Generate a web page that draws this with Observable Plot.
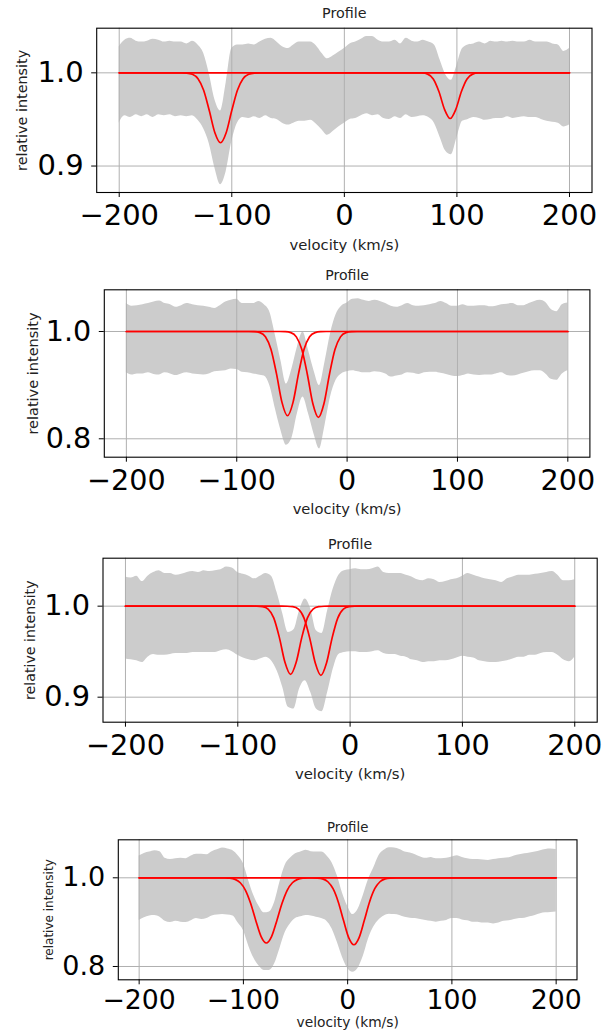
<!DOCTYPE html>
<html>
<head>
<meta charset="utf-8">
<script src="https://cdn.jsdelivr.net/npm/d3@7"></script>
<script src="https://cdn.jsdelivr.net/npm/@observablehq/plot@0.6"></script>
<style>
  html, body { margin: 0; padding: 0; background: #fff; }
  #wrap { position: relative; width: 613px; height: 1032px; overflow: hidden; background: #fff; }
  .panel { position: absolute; left: 0; }
</style>
</head>
<body>
<div id="wrap"></div>
<script>
// ---------- data ----------
const velocity = [-200,-195,-190,-185,-180,-175,-170,-165,-160,-155,-150,-145,-140,-135,-130,-125,-120,-115,-110,-105,
  -100,-95,-90,-85,-80,-75,-70,-65,-60,-55,-50,-45,-40,-35,-30,-25,-20,-15,-10,-5,
  0,5,10,15,20,25,30,35,40,45,50,55,60,65,70,75,80,85,90,95,
  100,105,110,115,120,125,130,135,140,145,150,155,160,165,170,175,180,185,190,195,200];

const xTicks = [-200, -100, 0, 100, 200];
const yTicks1 = [0.9, 1.0];
const yTicks2 = [0.8, 1.0];
const yTicks3 = [0.9, 1.0];
const yTicks4 = [0.8, 1.0];

const titles = ["Profile", "Profile", "Profile", "Profile"];
const xLabel = "velocity (km/s)";
const yLabel = "relative intensity";

// panel 1 band
const p1Upper = [1.028,1.035,1.037,1.034,1.033,1.034,1.036,1.035,1.033,1.034,
  1.033,1.033,1.031,1.034,1.030,1.021,0.999,0.971,0.959,0.989,
  1.026,1.030,1.030,1.031,1.030,1.033,1.036,1.037,1.033,1.028,
  1.026,1.030,1.033,1.033,1.033,1.029,1.021,1.015,1.018,1.022,
  1.026,1.031,1.033,1.036,1.039,1.039,1.035,1.033,1.033,1.035,
  1.031,1.037,1.034,1.033,1.035,1.033,1.030,1.014,0.998,0.992,
  1.008,1.026,1.030,1.031,1.033,1.031,1.034,1.033,1.034,1.033,
  1.034,1.033,1.033,1.035,1.033,1.033,1.033,1.031,1.030,1.023,
  1.026];
const p1Lower = [0.946,0.954,0.952,0.955,0.953,0.955,0.952,0.955,0.954,0.955,
  0.953,0.954,0.953,0.954,0.949,0.940,0.924,0.898,0.880,0.894,
  0.926,0.946,0.952,0.951,0.953,0.951,0.954,0.951,0.950,0.946,
  0.944,0.946,0.948,0.948,0.949,0.945,0.939,0.933,0.937,0.942,
  0.946,0.950,0.951,0.954,0.956,0.954,0.955,0.951,0.950,0.953,
  0.951,0.955,0.952,0.953,0.954,0.952,0.946,0.931,0.916,0.912,
  0.930,0.948,0.950,0.952,0.951,0.949,0.950,0.951,0.951,0.953,
  0.951,0.952,0.953,0.952,0.952,0.950,0.948,0.947,0.946,0.942,
  0.944];

// panel 2 band
const p2Upper = [1.052,1.047,1.048,1.050,1.052,1.055,1.057,1.052,1.050,1.045,
  1.048,1.052,1.050,1.048,1.047,1.045,1.043,1.048,1.055,1.058,
  1.060,1.052,1.052,1.052,1.056,1.050,1.036,0.993,0.946,0.902,
  0.930,0.971,0.999,0.965,0.927,0.899,0.943,0.996,1.031,1.047,
  1.053,1.060,1.061,1.058,1.056,1.058,1.056,1.052,1.047,1.045,
  1.048,1.052,1.048,1.047,1.048,1.050,1.052,1.056,1.052,1.047,
  1.047,1.050,1.047,1.047,1.048,1.048,1.046,1.047,1.050,1.051,
  1.052,1.048,1.048,1.052,1.056,1.058,1.054,1.041,1.037,1.050,
  1.053];
const p2Lower = [0.923,0.919,0.921,0.921,0.923,0.920,0.919,0.923,0.921,0.918,
  0.921,0.923,0.921,0.920,0.919,0.921,0.925,0.926,0.927,0.930,
  0.929,0.924,0.923,0.921,0.919,0.917,0.899,0.856,0.816,0.788,
  0.801,0.847,0.878,0.847,0.809,0.781,0.825,0.878,0.909,0.921,
  0.925,0.927,0.925,0.923,0.923,0.925,0.924,0.921,0.915,0.917,
  0.919,0.923,0.922,0.920,0.923,0.924,0.924,0.922,0.920,0.917,
  0.916,0.918,0.921,0.919,0.918,0.919,0.919,0.921,0.923,0.918,
  0.917,0.919,0.922,0.925,0.927,0.927,0.921,0.911,0.909,0.921,
  0.927];

// panel 3 band
const p3Upper = [1.032,1.031,1.033,1.027,1.033,1.037,1.039,1.036,1.036,1.034,
  1.035,1.037,1.038,1.037,1.039,1.038,1.039,1.040,1.043,1.042,
  1.037,1.035,1.033,1.030,1.033,1.036,1.033,1.015,0.992,0.971,
  0.974,0.995,1.008,0.997,0.973,0.970,0.995,1.019,1.034,1.039,
  1.040,1.041,1.040,1.040,1.041,1.043,1.037,1.036,1.036,1.036,
  1.034,1.032,1.029,1.028,1.030,1.029,1.026,1.027,1.029,1.030,
  1.033,1.036,1.034,1.032,1.030,1.029,1.028,1.026,1.030,1.032,
  1.034,1.034,1.034,1.035,1.036,1.037,1.038,1.034,1.028,1.028,
  1.029];
const p3Lower = [0.942,0.941,0.940,0.938,0.944,0.947,0.946,0.946,0.947,0.948,
  0.948,0.948,0.949,0.949,0.949,0.949,0.949,0.951,0.952,0.950,
  0.946,0.943,0.941,0.940,0.942,0.944,0.940,0.929,0.911,0.889,
  0.887,0.909,0.918,0.905,0.887,0.884,0.905,0.931,0.947,0.949,
  0.950,0.950,0.949,0.949,0.950,0.951,0.948,0.947,0.947,0.945,
  0.944,0.941,0.940,0.938,0.939,0.939,0.940,0.940,0.941,0.943,
  0.945,0.944,0.943,0.940,0.939,0.938,0.938,0.939,0.940,0.942,
  0.944,0.944,0.946,0.946,0.948,0.949,0.949,0.946,0.941,0.939,
  0.944];

// panel 4 band
const p4Upper = [1.049,1.055,1.058,1.061,1.059,1.044,1.041,1.043,1.044,1.043,
  1.049,1.053,1.053,1.052,1.059,1.063,1.067,1.065,1.061,1.050,
  1.032,0.994,0.960,0.936,0.921,0.923,0.945,0.990,1.028,1.044,
  1.054,1.058,1.062,1.059,1.058,1.058,1.050,1.034,1.005,0.966,
  0.936,0.917,0.929,0.960,0.996,1.022,1.050,1.062,1.068,1.067,
  1.064,1.058,1.056,1.052,1.047,1.044,1.046,1.043,1.043,1.044,
  1.047,1.050,1.046,1.043,1.041,1.041,1.040,1.039,1.041,1.043,
  1.044,1.045,1.049,1.052,1.054,1.056,1.058,1.061,1.064,1.065,
  1.064];
const p4Lower = [0.904,0.910,0.914,0.915,0.911,0.902,0.899,0.902,0.900,0.899,
  0.903,0.908,0.906,0.908,0.914,0.916,0.917,0.916,0.914,0.898,
  0.881,0.847,0.819,0.801,0.791,0.791,0.806,0.840,0.876,0.896,
  0.908,0.912,0.915,0.914,0.911,0.908,0.902,0.885,0.855,0.821,
  0.796,0.787,0.796,0.823,0.862,0.889,0.905,0.914,0.918,0.917,
  0.915,0.911,0.909,0.908,0.906,0.904,0.902,0.900,0.902,0.904,
  0.908,0.908,0.905,0.903,0.900,0.900,0.898,0.898,0.896,0.898,
  0.902,0.903,0.906,0.908,0.909,0.912,0.915,0.919,0.921,0.922,
  0.923];

// red model components (velocity, intensity)
const p1FitAx = [-200,-145,-140,-135,-130,-125,-120,-115,-110,-105,-100,-95,-90,-85,-80,-75,200];
const p1FitAy = [1,1,0.9997,0.9984,0.9936,0.9813,0.9595,0.9357,0.925,0.9357,0.9595,0.9813,0.9936,0.9984,0.9997,1,1];
const p1FitBx = [-200,64,69,74,79,84,89,94,99,104,109,114,119,124,200];
const p1FitBy = [1,1,0.9998,0.9986,0.9934,0.9799,0.9608,0.951,0.9608,0.9799,0.9934,0.9986,0.9998,1,1];

const p2FitAx = [-200,-89,-84,-79,-74,-69,-64,-59,-54,-49,-44,-39,-34,-29,-24,-19,200];
const p2FitAy = [1,1,0.9997,0.9979,0.9901,0.9669,0.9214,0.8679,0.843,0.8679,0.9214,0.9669,0.9901,0.9979,0.9997,1,1];
const p2FitBx = [-200,-61,-56,-51,-46,-41,-36,-31,-26,-21,-16,-11,-6,-1,4,9,200];
const p2FitBy = [1,1,0.9997,0.9979,0.99,0.9663,0.9199,0.8654,0.84,0.8654,0.9199,0.9663,0.99,0.9979,0.9997,1,1];

const p3FitAx = [-200,-88,-83,-78,-73,-68,-63,-58,-53,-48,-43,-38,-33,-28,-23,-18,200];
const p3FitAy = [1,1,0.9999,0.9994,0.9967,0.9871,0.9657,0.9383,0.925,0.9383,0.9657,0.9871,0.9967,0.9994,0.9999,1,1];
const p3FitBx = [-200,-61,-56,-51,-46,-41,-36,-31,-26,-21,-16,-11,-6,-1,4,9,200];
const p3FitBy = [1,1,0.9999,0.9994,0.9967,0.9869,0.9652,0.9375,0.924,0.9375,0.9652,0.9869,0.9967,0.9994,0.9999,1,1];

const p4FitAx = [-200,-123,-118,-113,-108,-103,-98,-93,-88,-83,-78,-73,-68,-63,-58,-53,-48,-43,-38,-33,200];
const p4FitAy = [1,1,0.9998,0.9991,0.9964,0.9889,0.9719,0.942,0.9028,0.8674,0.853,0.8674,0.9028,0.942,0.9719,0.9889,0.9964,0.9991,0.9998,1,1];
const p4FitBx = [-200,-39,-34,-29,-24,-19,-14,-9,-4,1,6,11,16,21,26,31,36,41,46,51,200];
const p4FitBy = [1,1,0.9999,0.9994,0.9975,0.9911,0.9754,0.9456,0.9041,0.8652,0.849,0.8652,0.9041,0.9456,0.9754,0.9911,0.9975,0.9994,0.9999,1,1];

// ---------- drawing ----------
const fmtX = d => d < 0 ? "\u2212" + Math.abs(d) : String(d);
const fmtY = d => d.toFixed(1);
const FONT = "DejaVu Sans";

function drawPanel(cfg) {
  const band = velocity.map((v, i) => ({v, lo: cfg.lower[i], hi: cfg.upper[i]}));
  const lineMarks = cfg.fits.map(([xs, ys]) =>
    Plot.line(xs.map((x, i) => ({x, y: ys[i]})), {
      x: "x", y: "y", stroke: "#ff0000", strokeWidth: 1.7, curve: "monotone-x"
    })
  );
  const chart = Plot.plot({
    width: 613,
    height: cfg.height,
    marginLeft: cfg.ml, marginRight: cfg.mr, marginTop: cfg.mt, marginBottom: cfg.mb,
    style: {fontFamily: FONT, background: "transparent", color: "#000", overflow: "visible"},
    x: {domain: [-220, 220]},
    y: {domain: cfg.yDomain},
    marks: [
      Plot.areaY(band, {x: "v", y1: "lo", y2: "hi", fill: "#cccccc", curve: "monotone-x"}),
      Plot.gridX(xTicks, {stroke: "#b0b0b0", strokeOpacity: 1, strokeWidth: 1}),
      Plot.gridY(cfg.yTicks, {stroke: "#b0b0b0", strokeOpacity: 1, strokeWidth: 1}),
      ...lineMarks,
      Plot.frame({stroke: "#000", strokeWidth: 1.1}),
      Plot.axisX(xTicks, {anchor: "bottom", tickSize: 5, tickPadding: cfg.xPad, fontSize: cfg.xFont,
        tickFormat: fmtX, label: null, fill: "#000"}),
      Plot.axisY(cfg.yTicks, {anchor: "left", tickSize: 5, tickPadding: 8, fontSize: cfg.yFont,
        tickFormat: fmtY, label: null, fill: "#000"}),
      Plot.text([cfg.title], {frameAnchor: "top", text: d => d, dy: cfg.titleDy, lineAnchor: "middle",
        fontSize: cfg.titleFont, fill: "#222"}),
      Plot.text([xLabel], {frameAnchor: "bottom", text: d => d, dy: cfg.xlabDy, lineAnchor: "middle",
        fontSize: cfg.xlabFont, fill: "#222"}),
      Plot.text([yLabel], {frameAnchor: "left", text: d => d, dx: cfg.ylabDx, rotate: -90,
        textAnchor: "middle", lineAnchor: "middle", fontSize: cfg.ylabFont, fill: "#222"})
    ]
  });
  const div = document.createElement("div");
  div.className = "panel";
  div.style.top = cfg.top + "px";
  div.appendChild(chart);
  document.getElementById("wrap").appendChild(div);
}

drawPanel({top: 0, height: 260, ml: 96.2, mr: 21.5, mt: 27.7, mb: 68,
  yDomain: [0.8716, 1.0479], yTicks: yTicks1, upper: p1Upper, lower: p1Lower,
  fits: [[p1FitAx, p1FitAy], [p1FitBx, p1FitBy]], title: titles[0],
  xPad: 6.5, xFont: 29, yFont: 29, titleFont: 14.3, titleDy: -14.4,
  xlabFont: 14.8, xlabDy: 53, ylabFont: 14.4, ylabDx: -74});

drawPanel({top: 260, height: 265, ml: 103.8, mr: 23.6, mt: 29.3, mb: 68.3,
  yDomain: [0.7657, 1.0777], yTicks: yTicks2, upper: p2Upper, lower: p2Lower,
  fits: [[p2FitAx, p2FitAy], [p2FitBx, p2FitBy]], title: titles[1],
  xPad: 7.5, xFont: 28.6, yFont: 28.6, titleFont: 14.1, titleDy: -14.3,
  xlabFont: 14.7, xlabDy: 51.6, ylabFont: 14.5, ylabDx: -71});

drawPanel({top: 525, height: 275, ml: 102.5, mr: 16.3, mt: 32.7, mb: 78.3,
  yDomain: [0.8725, 1.0527], yTicks: yTicks3, upper: p3Upper, lower: p3Lower,
  fits: [[p3FitAx, p3FitAy], [p3FitBx, p3FitBy]], title: titles[2],
  xPad: 7.5, xFont: 28.8, yFont: 28.8, titleFont: 14.2, titleDy: -13.4,
  xlabFont: 14.9, xlabDy: 51.6, ylabFont: 14.2, ylabDx: -73});

drawPanel({top: 800, height: 232, ml: 117.8, mr: 36.5, mt: 39.3, mb: 52.7,
  yDomain: [0.77, 1.0857], yTicks: yTicks4, upper: p4Upper, lower: p4Lower,
  fits: [[p4FitAx, p4FitAy], [p4FitBx, p4FitBy]], title: titles[3],
  xPad: 5, xFont: 26.7, yFont: 27, titleFont: 13.3, titleDy: -11.6,
  xlabFont: 13.8, xlabDy: 42.4, ylabFont: 12, ylabDx: -69});
</script>
</body>
</html>
